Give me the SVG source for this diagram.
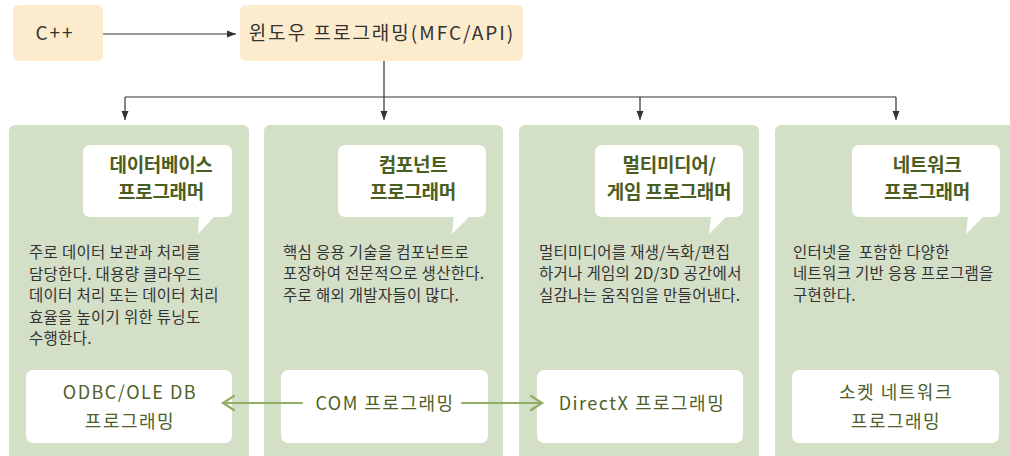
<svg xmlns="http://www.w3.org/2000/svg" width="1010" height="456" viewBox="0 0 1010 456">
<style>
.top{fill:#fdebcd}
.panel{fill:#d4dfc8}
.white{fill:#ffffff}
.hand{font-family:"Noto Sans CJK KR","Noto Sans",sans-serif;font-size:19px;font-weight:400;fill:#333333;text-anchor:middle;letter-spacing:2px}
.handg{font-family:"Noto Sans CJK KR","Noto Sans",sans-serif;font-size:18px;font-weight:400;fill:#4f6128;text-anchor:middle;letter-spacing:1.5px}
.title{font-family:"Noto Sans CJK KR",sans-serif;font-size:19px;font-weight:700;fill:#4b5e21;text-anchor:middle;letter-spacing:-0.3px}
.body{font-family:"Noto Sans CJK KR",sans-serif;font-size:15.5px;fill:#333333;letter-spacing:0.3px}
.conn{stroke:#333333;stroke-width:1.2;fill:none}
.garrow{stroke:#8fae63;stroke-width:2.2;fill:none;stroke-linecap:round}
</style>
<defs>
<marker id="ah" markerWidth="10" markerHeight="10" refX="9" refY="5" orient="auto" markerUnits="userSpaceOnUse">
<path d="M0,1.5 L9,5 L0,8.5 Z" fill="#333333"/>
</marker>
</defs>

<g id="cpp">
<rect class="top" x="13" y="5" width="90" height="56" rx="6"/>
<text class="hand" x="55" y="40">C++</text>
</g>
<g id="windows">
<rect class="top" x="240" y="5" width="283" height="56" rx="6"/>
<text class="hand" x="382" y="40">윈도우 프로그래밍(MFC/API)</text>
</g>

<g id="connectors">
<line class="conn" x1="103" y1="34" x2="236" y2="34" marker-end="url(#ah)"/>
<line class="conn" x1="384" y1="61" x2="384" y2="120" marker-end="url(#ah)"/>
<polyline class="conn" points="125,97 896,97"/>
<line class="conn" x1="125" y1="97" x2="125" y2="120" marker-end="url(#ah)"/>
<line class="conn" x1="640" y1="97" x2="640" y2="120" marker-end="url(#ah)"/>
<line class="conn" x1="896" y1="97" x2="896" y2="120" marker-end="url(#ah)"/>
</g>

<g id="panel-db">
<rect class="panel" x="9" y="125" width="240" height="340" rx="6"/>
<rect class="white" x="83" y="145" width="149" height="72" rx="7"/>
<polygon class="white" points="199,216 215,216 198,234"/>
<text class="title" x="161" y="172">데이터베이스</text>
<text class="title" x="161" y="199">프로그래머</text>
<text class="body" x="29"><tspan x="29" y="258">주로 데이터 보관과 처리를</tspan><tspan x="29" y="280">담당한다. 대용량 클라우드</tspan><tspan x="29" y="301">데이터 처리 또는 데이터 처리</tspan><tspan x="29" y="323">효율을 높이기 위한 튜닝도</tspan><tspan x="29" y="344">수행한다.</tspan></text>
<rect class="white" x="26" y="370" width="206" height="73" rx="7"/>
<text class="handg" x="130" y="399">ODBC/OLE DB</text>
<text class="handg" x="130" y="428">프로그래밍</text>
</g>

<g id="panel-com">
<rect class="panel" x="264" y="125" width="239" height="340" rx="6"/>
<rect class="white" x="338" y="145" width="148" height="72" rx="7"/>
<polygon class="white" points="454,216 470,216 452,234"/>
<text class="title" x="413" y="172">컴포넌트</text>
<text class="title" x="413" y="199">프로그래머</text>
<text class="body"><tspan x="283" y="258">핵심 응용 기술을 컴포넌트로</tspan><tspan x="283" y="279">포장하여 전문적으로 생산한다.</tspan><tspan x="283" y="301">주로 해외 개발자들이 많다.</tspan></text>
<rect class="white" x="281" y="370" width="207" height="73" rx="7"/>
<text class="handg" x="385" y="410">COM 프로그래밍</text>
</g>

<g id="panel-mm">
<rect class="panel" x="519" y="125" width="240" height="340" rx="6"/>
<rect class="white" x="595" y="145" width="148" height="72" rx="7"/>
<polygon class="white" points="711,216 727,216 709,234"/>
<text class="title" x="669" y="172">멀티미디어/</text>
<text class="title" x="669" y="199">게임 프로그래머</text>
<text class="body"><tspan x="539" y="258">멀티미디어를 재생/녹화/편집</tspan><tspan x="539" y="279">하거나 게임의 2D/3D 공간에서</tspan><tspan x="539" y="301">실감나는 움직임을 만들어낸다.</tspan></text>
<rect class="white" x="537" y="370" width="206" height="73" rx="7"/>
<text class="handg" x="642" y="410">DirectX 프로그래밍</text>
</g>

<g id="panel-net">
<rect class="panel" x="775" y="125" width="245" height="340" rx="6"/>
<rect class="white" x="852" y="145" width="148" height="72" rx="7"/>
<polygon class="white" points="968,216 984,216 966,234"/>
<text class="title" x="927" y="172">네트워크</text>
<text class="title" x="927" y="199">프로그래머</text>
<text class="body" xml:space="preserve"><tspan x="793" y="258">인터넷을  포함한 다양한</tspan><tspan x="793" y="279">네트워크 기반 응용 프로그램을</tspan><tspan x="793" y="301">구현한다.</tspan></text>
<rect class="white" x="792" y="370" width="207" height="73" rx="7"/>
<text class="handg" x="896" y="399">소켓 네트워크</text>
<text class="handg" x="896" y="428">프로그래밍</text>
</g>

<g id="links">
<line class="garrow" x1="223" y1="403" x2="302" y2="403"/>
<polyline class="garrow" points="234,396 223,403 234,410"/>
<line class="garrow" x1="462" y1="403" x2="542" y2="403"/>
<polyline class="garrow" points="531,396 542,403 531,410"/>
</g>
</svg>
